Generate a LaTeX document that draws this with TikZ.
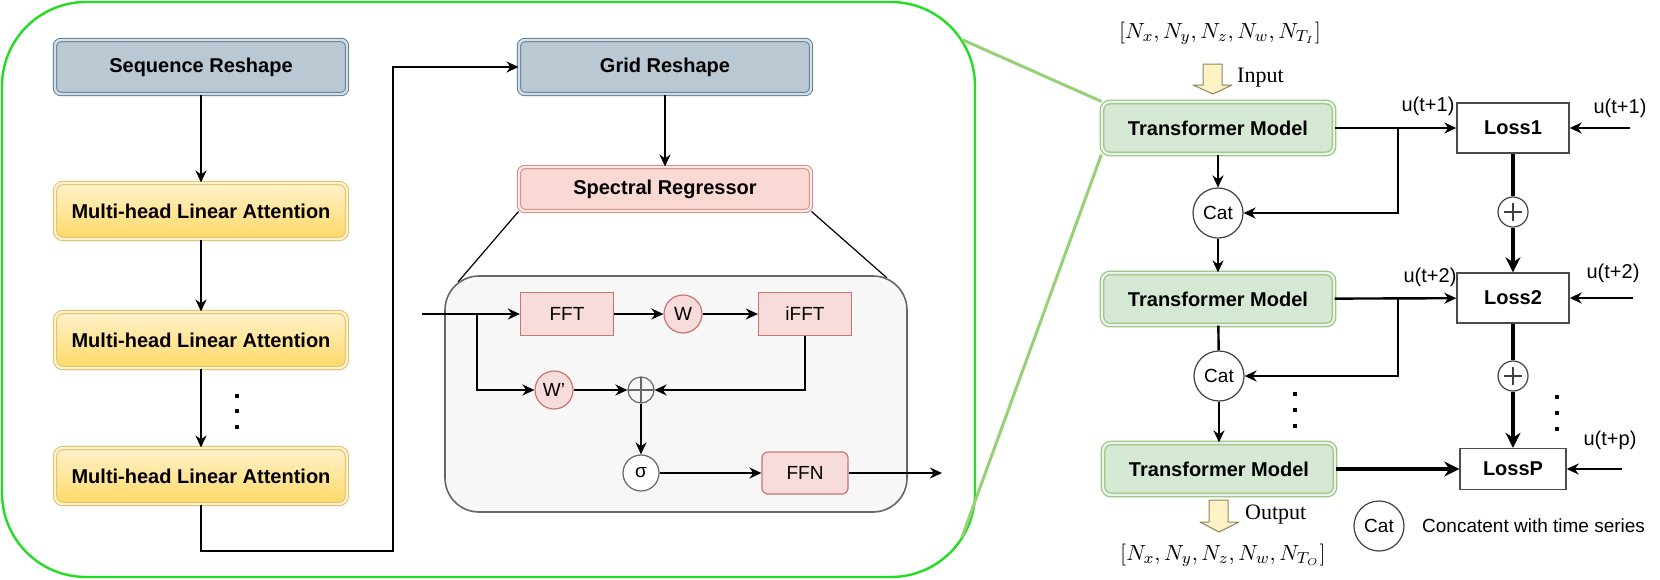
\documentclass[tikz,border=0pt]{standalone}
\usepackage{fontspec}
\setmainfont{Liberation Sans}
\newfontfamily\serifrm{Liberation Serif}
\usetikzlibrary{arrows.meta}

\definecolor{framegreen}{RGB}{34,221,34}
\definecolor{linkgreen}{HTML}{97D077}
\definecolor{reshapefill}{HTML}{BAC8D3}
\definecolor{reshapeline}{HTML}{5E7D96}
\definecolor{attntop}{HTML}{FFF2CC}
\definecolor{attnbot}{HTML}{FFD966}
\definecolor{attnline}{HTML}{DDBF66}
\definecolor{specfill}{HTML}{FAD9D5}
\definecolor{specline}{HTML}{D08A80}
\definecolor{redfill}{HTML}{F8DCDB}
\definecolor{redline}{HTML}{C87570}
\definecolor{tmfill}{HTML}{D5E8D4}
\definecolor{tmline}{HTML}{97C47F}
\definecolor{boxgray}{HTML}{F7F7F7}
\definecolor{boxline}{HTML}{666666}
\definecolor{arrowfill}{HTML}{FFF2C4}
\definecolor{arrowline}{HTML}{8A8460}

\tikzset{
  reshape/.style={draw=reshapeline, fill=reshapefill, double=reshapefill!60!white,
    double distance=1.2pt, line width=0.5pt, rounded corners=3pt,
    minimum width=146pt, minimum height=27pt,
    font=\fontsize{10}{12}\selectfont\bfseries},
  attn/.style={draw=attnline, top color=attntop, bottom color=attnbot,
    double=attntop, double distance=1.2pt, line width=0.5pt, rounded corners=4pt,
    minimum width=146pt, minimum height=28pt,
    font=\fontsize{10}{12}\selectfont\bfseries},
  spec/.style={draw=specline, fill=specfill, double=specfill!60!white,
    double distance=1.2pt, line width=0.5pt, rounded corners=3pt,
    minimum width=146pt, minimum height=22pt,
    font=\fontsize{10}{12}\selectfont\bfseries},
  fftbox/.style={draw=redline, fill=redfill, line width=0.6pt,
    minimum width=46.5pt, minimum height=21.5pt, font=\fontsize{9.5}{11}\selectfont},
  ffnbox/.style={fftbox, rounded corners=3pt, minimum width=43pt, minimum height=21pt},
  wnode/.style={circle, draw=redline, fill=redfill, line width=0.6pt,
    minimum size=19pt, inner sep=0pt, font=\fontsize{9.5}{11}\selectfont},
  signode/.style={circle, draw=boxline, fill=white, line width=0.6pt,
    minimum size=18pt, inner sep=0pt, font=\fontsize{9.5}{11}\selectfont},
  oplus/.style={circle, draw=boxline, line width=0.6pt, minimum size=13pt, inner sep=0pt,
    path picture={\draw[boxline, line width=0.6pt]
      (path picture bounding box.center) ++(-6.5pt,0) -- ++(13pt,0)
      (path picture bounding box.center) ++(0,-6.5pt) -- ++(0,13pt);}},
  tmbox/.style={draw=tmline, fill=tmfill, double=tmfill!50!white,
    double distance=1.2pt, line width=0.6pt, rounded corners=4pt,
    minimum width=116pt, minimum height=26pt,
    font=\fontsize{10}{12}\selectfont\bfseries},
  lossbox/.style={draw=black!70, fill=white, line width=0.7pt,
    minimum width=56pt, minimum height=25pt,
    font=\fontsize{10}{12}\selectfont\bfseries},
  catnode/.style={circle, draw=black!75, fill=white, line width=0.6pt,
    minimum size=25pt, inner sep=0pt, font=\fontsize{9.5}{11}\selectfont},
  sumnode/.style={circle, draw=black!75, fill=white, line width=0.6pt,
    minimum size=15pt, inner sep=0pt,
    path picture={\draw[line width=1.2pt]
      (path picture bounding box.center) ++(-4.5pt,0) -- ++(9pt,0)
      (path picture bounding box.center) ++(0,-4.5pt) -- ++(0,9pt);}},
  ulabel/.style={font=\fontsize{10}{12}\selectfont, inner sep=0pt},
  iolabel/.style={font=\fontsize{11}{13}\selectfont\serifrm, inner sep=0pt, anchor=west},
  blockarrow/.style={draw=arrowline, fill=arrowfill, line width=0.5pt, line join=round},
  thick arrow/.style={line width=1.7pt, -{Stealth[length=7.5pt,width=7.5pt]}}
}

\begin{document}
\begin{tikzpicture}[x=0.5pt, y=-0.5pt, line width=1.2pt,
  >={Stealth[length=6pt,width=5.5pt]}]

\useasboundingbox (0,0) rectangle (1660,579);

% Frame round the transformer model
\draw[framegreen, line width=1.2pt, rounded corners=42pt] (2,2) rectangle (975,577);

% Left column
\node[reshape] (seq) at (201,67) {Sequence Reshape};
\node[attn] (mla1) at (201,211) {Multi-head Linear Attention};
\node[attn] (mla2) at (201,340) {Multi-head Linear Attention};
\node[attn] (mla3) at (201,476) {Multi-head Linear Attention};

\draw[->] (seq) -- (mla1);
\draw[->] (mla1) -- (mla2);
\draw[->] (mla2) -- (mla3);

\foreach \y in {396,411,427}
    \fill (235,\y) ++(0,-2) rectangle ++(4,4);

% Second column
\node[reshape] (grid) at (665,67) {Grid Reshape};
\node[spec] (sr) at (665,189) {Spectral Regressor};

\coordinate (turn) at (393,551);
\draw[->] (mla3.south) |- (turn) |- (grid.west);
\draw[->] (grid) -- (sr);

% Zoomed spectral regressor
\draw[line width=0.6pt] (sr.south west) -- (458,282);
\draw[line width=0.6pt] (sr.south east) -- (887,278);
\draw[draw=boxline, fill=boxgray, line width=0.8pt, rounded corners=17pt]
    (445,276) rectangle (907,512);

\node[fftbox] (fft) at (567,314) {FFT};
\node[wnode] (w) at (683,314) {W};
\node[fftbox] (ifft) at (805,314) {iFFT};
\node[wnode] (wp) at (554,390) {W'};
\node[oplus] (sum) at (641,390) {};
\node[signode] (sig) at (641,473) {σ};
\node[ffnbox] (ffn) at (805,473) {FFN};

\coordinate (srin) at (422,314);
\coordinate (split) at (477,314);
\coordinate (srout) at (942,473);

\draw[->] (srin) -- (fft);
\draw[->] (fft) -- (w);
\draw[->] (w) -- (ifft);
\draw[->] (split) |- (wp);
\draw[->] (wp) -- (sum);
\draw[->] (ifft) |- (sum);
\draw[->] (sum) -- (sig);
\draw[->] (sig) -- (ffn);
\draw[->] (ffn) -- (srout);

% Rollout over time steps
\node[tmbox] (tm1) at (1218,128) {Transformer Model};
\node[tmbox] (tm2) at (1218,299) {Transformer Model};
\node[tmbox] (tm3) at (1219,469) {Transformer Model};

\node[catnode] (cat1) at (1218,213) {Cat};
\node[catnode] (cat2) at (1219,376) {Cat};

\node[lossbox] (loss1) at (1513,128) {Loss1};
\node[lossbox] (loss2) at (1513,298) {Loss2};
\node[lossbox, minimum width=53pt, minimum height=20.5pt] (lossp) at (1513,469) {LossP};

\node[sumnode] (plus1) at (1513,212) {};
\node[sumnode] (plus2) at (1513,376) {};

% Link from the frame to the model
\coordinate (zoomtop) at (963,40);
\coordinate (zoombot) at (962,537);
\draw[linkgreen, line width=1.5pt] (zoomtop) -- (tm1.north west);
\draw[linkgreen, line width=1.5pt] (tm1.south west) -- (zoombot);

% Input and output
\draw[blockarrow] (1203,64) -- (1222,64) -- (1222,85) -- (1232,85)
    -- (1213,94) -- (1193,85) -- (1203,85) -- cycle;
\node[iolabel] (inlab) at (1236,78) {Input};
\node[font=\fontsize{11}{13}\selectfont] (dimin) at (1220,33)
    {$[N_x,N_y,N_z,N_w,N_{T_I}]$};

\draw[blockarrow] (1209,500) -- (1228,500) -- (1228,522) -- (1239,522)
    -- (1219,532) -- (1200,522) -- (1209,522) -- cycle;
\node[iolabel] (outlab) at (1244,515) {Output};
\node[font=\fontsize{11}{13}\selectfont] (dimout) at (1223,555)
    {$[N_x,N_y,N_z,N_w,N_{T_O}]$};

% Connections
\coordinate (fork1) at (1398,128);
\coordinate (fork2) at (1398,299);

\draw[->] (tm1) -- (loss1);
\draw[->] (fork1) |- (cat1);
\draw[->] (tm1) -- (cat1);
\draw[->] (cat1) -- (tm2);

\draw[->] (tm2) -- (loss2);
\draw[->] (fork2) |- (cat2);
\draw (tm2) -- (cat2);
\draw[->] (cat2) -- (tm3);

\draw[thick arrow] (tm3) -- (lossp);

\draw[line width=1.7pt] (loss1) -- (plus1);
\draw[thick arrow] (plus1) -- (loss2);
\draw[line width=1.7pt] (loss2) -- (plus2);
\draw[thick arrow] (plus2) -- (lossp);

\foreach \y in {394,410,426}
    \fill (1293,\y) ++(0,-2) rectangle ++(4,4);
\foreach \y in {397,413,429}
    \fill (1555,\y) ++(0,-2) rectangle ++(4,4);

% Targets
\node[ulabel] (ul1) at (1428,106) {u(t+1)};
\node[ulabel] (ul2) at (1430,277) {u(t+2)};
\node[ulabel] (ur1) at (1620,108) {u(t+1)};
\node[ulabel] (ur2) at (1613,273) {u(t+2)};
\node[ulabel] (urp) at (1610,440) {u(t+p)};

\coordinate (tgt1) at (1630,128);
\coordinate (tgt2) at (1633,298);
\coordinate (tgtp) at (1622,469);
\draw[->] (tgt1) -- (loss1);
\draw[->] (tgt2) -- (loss2);
\draw[->] (tgtp) -- (lossp);

% Legend
\node[catnode] (catkey) at (1379,526) {Cat};
\node[anchor=west, inner sep=0pt, font=\fontsize{9.5}{11}\selectfont] (catkeytext)
    at (1421,526) {Concatent with time series};

\end{tikzpicture}
\end{document}
